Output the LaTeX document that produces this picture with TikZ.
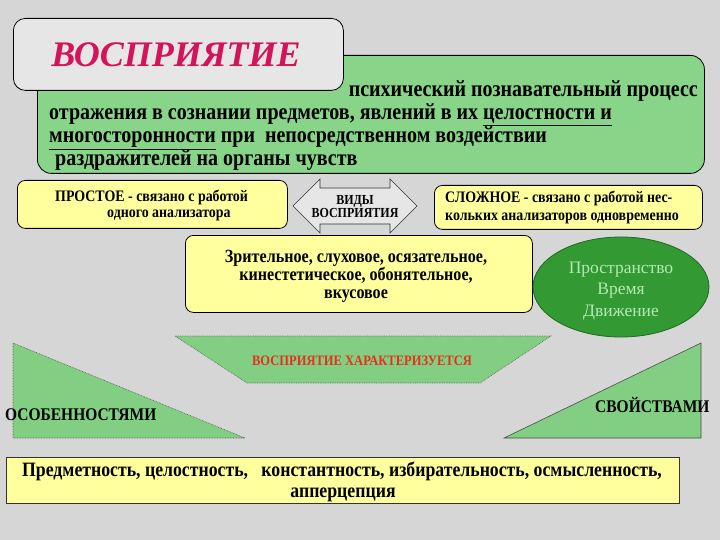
\documentclass[tikz,border=0pt]{standalone}
\usepackage{fontspec}
\setmainfont{Liberation Serif}
\newfontfamily\cnd[FakeStretch=0.87]{Liberation Serif}
\usetikzlibrary{shapes.geometric}
\definecolor{bg}{HTML}{D6D6D6}
\definecolor{titlebg}{HTML}{E6E6E6}
\definecolor{grn}{HTML}{88D488}
\definecolor{trigrn}{HTML}{82CE82}
\definecolor{yel}{HTML}{FFFF9E}
\definecolor{dkgrn}{HTML}{339933}
\definecolor{dkgrnline}{HTML}{1E6B1E}
\definecolor{ltgrn}{HTML}{B4EAB4}
\definecolor{crim}{HTML}{D4145A}
\definecolor{redtxt}{HTML}{E8301C}
\tikzset{
  ybox/.style={draw=black, line width=0.8pt, fill=yel, rounded corners=8pt, anchor=north west, inner sep=0pt},
  txt/.style={inner sep=0pt, anchor=base west},
  ctxt/.style={inner sep=0pt, anchor=base},
  big/.style={font=\fontsize{23}{26}\cnd\bfseries},
  small/.style={font=\fontsize{16}{18}\cnd\bfseries},
  mid/.style={font=\fontsize{18.5}{20}\cnd\bfseries},
  side/.style={font=\fontsize{17.8}{20}\cnd\bfseries},
  bottom/.style={font=\fontsize{20.4}{22}\cnd\bfseries},
  elltxt/.style={inner sep=0pt, anchor=base, text=ltgrn, font=\fontsize{17.5}{20}\selectfont},
  tri/.style={fill=trigrn, draw=black!70, line width=0.6pt},
}
\begin{document}
\begin{tikzpicture}[x=1pt,y=-1pt]
\fill[bg] (0,0) rectangle (720,540);
\useasboundingbox (0,0) rectangle (720,540);

% definition box
\node[draw=black, line width=0.8pt, fill=grn, rounded corners=14pt, anchor=north west, inner sep=0pt,
      minimum width=667, minimum height=118] (defbox) at (37,55) {};
% title box
\node[draw=black, line width=0.8pt, fill=titlebg, rounded corners=12pt, anchor=north west, inner sep=0pt,
      minimum width=330, minimum height=72] (titlebox) at (13,18) {};
\node[inner sep=0pt, text=crim, font=\fontsize{36}{36}\selectfont\bfseries\itshape] (title) at (176,55) {ВОСПРИЯТИЕ};

\node[txt, big, anchor=base east] (d1) at (698,97) {психический познавательный процесс};
\node[txt, big] (d2) at (49,120) {отражения в сознании предметов, явлений в их \underline{целостности и}};
\node[txt, big] (d3) at (49,143) {\underline{многосторонности} при\ \ непосредственном воздействии};
\node[txt, big] (d4) at (55,166) {раздражителей на органы чувств};

% simple / complex boxes
\node[ybox, minimum width=270, minimum height=48] (prostoe) at (17,180) {};
\node[txt, small] (p1) at (55,202) {ПРОСТОЕ - связано с работой};
\node[txt, small] (p2) at (107,218) {одного анализатора};

\node[ybox, minimum width=268, minimum height=44] (slozhnoe) at (434,185) {};
\node[txt, small] (s1) at (445,203) {СЛОЖНОЕ - связано с работой нес-};
\node[txt, small] (s2) at (445,221) {кольких анализаторов одновременно};

% double arrow
\draw[fill=titlebg, draw=black!80, line width=0.6pt]
  (293,206) -- (320,179) -- (320,188) -- (390,188) -- (390,179) -- (417,206)
  -- (390,233) -- (390,224) -- (320,224) -- (320,233) -- cycle;
\node[ctxt, font=\fontsize{13.8}{15}\cnd\bfseries] (v1) at (355,205) {ВИДЫ};
\node[ctxt, font=\fontsize{13.8}{15}\cnd\bfseries] (v2) at (355,218) {ВОСПРИЯТИЯ};

% modalities box
\node[ybox, minimum width=347, minimum height=77] (modal) at (185,235) {};
\node[ctxt, mid] (m1) at (356,262) {Зрительное, слуховое, осязательное,};
\node[ctxt, mid] (m2) at (356,280) {кинестетическое, обонятельное,};
\node[ctxt, mid] (m3) at (356,298) {вкусовое};

% ellipse
\node[ellipse, draw=dkgrnline, line width=0.8pt, fill=dkgrn, minimum width=176, minimum height=100, inner sep=0pt] (ell) at (621,287) {};
\node[elltxt] (e1) at (621,273) {Пространство};
\node[elltxt] (e2) at (621,294) {Время};
\node[elltxt] (e3) at (621,316) {Движение};

% trapezoid
\draw[fill=trigrn, draw=black!60, densely dotted, line width=0.7pt]
  (175,336) -- (551,336) -- (480,383) -- (247,383) -- cycle;
\node[ctxt, text=redtxt, font=\fontsize{14.4}{16}\cnd\bfseries] (char) at (362,365) {ВОСПРИЯТИЕ ХАРАКТЕРИЗУЕТСЯ};

% triangles
\draw[tri, densely dotted] (13,343) -- (13,438) -- (245,438) -- cycle;
\draw[tri] (701,343) -- (701,438) -- (504,438) -- cycle;
\node[txt, side] (osob) at (5,420) {ОСОБЕННОСТЯМИ};
\node[txt, side] (svoi) at (595,412) {СВОЙСТВАМИ};

% properties box
\node[draw=black!80, line width=0.8pt, fill=yel, anchor=north west, inner sep=0pt,
      minimum width=673, minimum height=46] (props) at (6,457) {};
\node[ctxt, bottom] (pr1) at (342,476) {Предметность, целостность,\ \ \ константность, избирательность, осмысленность,};
\node[ctxt, bottom] (pr2) at (343,497) {апперцепция};
\end{tikzpicture}
\end{document}
